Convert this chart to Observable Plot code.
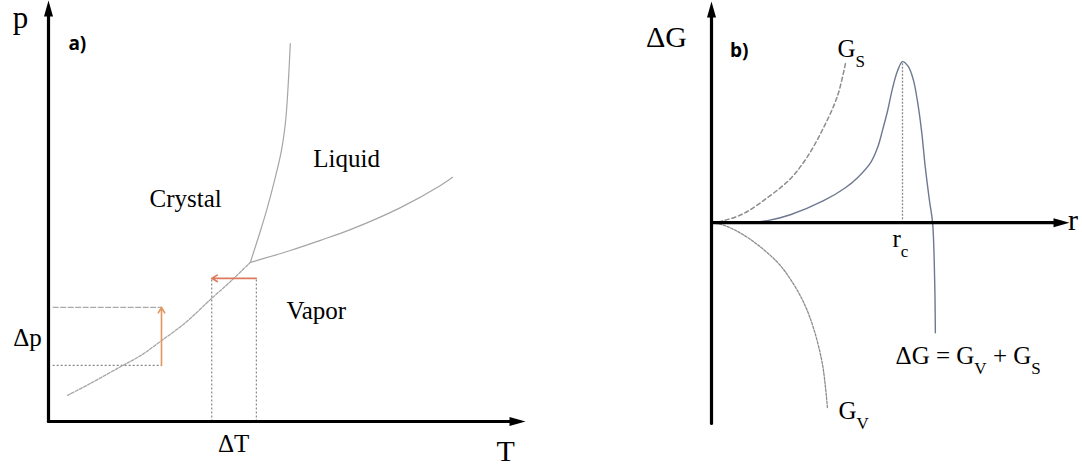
<!DOCTYPE html>
<html>
<head>
<meta charset="utf-8">
<script src="https://cdn.jsdelivr.net/npm/d3@7"></script>
<script src="https://cdn.jsdelivr.net/npm/@observablehq/plot@0.6"></script>
<style>
  html, body { margin: 0; padding: 0; background: #fff; }
  #figure { display: flex; width: 1082px; height: 466px; }
  #figure svg { overflow: visible; }
</style>
</head>
<body>
<div id="figure"></div>
<script>
// ---- a) p–T phase diagram: [T, p] in arbitrary units ----
const meltingCurve = [[4.34,3.89],[4.56,4.67],[4.69,5.16],[4.86,5.89],[5.01,6.63],[5.10,7.36],[5.16,8.34],[5.20,9.24]];
const vaporCurve = [[4.34,3.89],[5.20,4.18],[5.85,4.43],[6.49,4.69],[7.57,5.23],[8.43,5.77],[8.69,5.97]];
const sublimationCurve = [[0.41,0.64],[0.90,0.93],[1.55,1.34],[1.98,1.61],[2.41,1.96],[2.95,2.42],[3.48,2.98],[3.91,3.42],[4.34,3.89]];
const pressureStep = {T: 2.43, from: 1.37, to: 2.79};      // Δp at constant T
const temperatureStep = {p: 3.50, from: 4.47, to: 3.51};   // ΔT at constant p
const phaseNames = ["Crystal", "Liquid", "Vapor"];

// ---- b) nucleation free energy: [r, G] in arbitrary units ----
const surfaceTerm = [[0,0],[0.35,0.10],[0.92,0.43],[1.62,1.20],[2.28,2.10],[2.77,3.15],[3.24,4.55],[3.64,6.05],[3.87,7.60]];
const volumeTerm = [[0,0],[0.35,-0.12],[0.84,-0.50],[1.33,-1.05],[1.91,-1.90],[2.28,-2.70],[2.66,-3.80],[2.95,-5.05],[3.21,-6.80],[3.35,-8.84]];
const totalEnergy = [[0,0],[0.84,0],[1.62,0.10],[2.28,0.38],[3.24,1.05],[3.87,1.67],[4.22,2.15],[4.60,2.87],[4.80,3.59],[4.94,4.40],[5.09,5.35],[5.23,6.41],[5.38,7.27],[5.52,7.70],[5.69,7.46],[5.84,6.79],[5.95,5.83],[6.07,4.40],[6.18,2.63],[6.30,1.05],[6.39,0],[6.45,-2.77],[6.47,-5.26]];
const criticalRadius = 5.52;
const barrierHeight = 7.70;

const serif = "'Liberation Serif', 'Times New Roman', serif";
const X = d => d[0], Y = d => d[1];

// Filled arrow head, tip pointing up; the origin sits inside the head so the axis line is covered.
const arrowHead = {
  draw(ctx) {
    ctx.moveTo(0, -12);
    ctx.lineTo(4.5, 4);
    ctx.lineTo(-4.5, 4);
    ctx.closePath();
  }
};

function axesMarks(xMax, yMin, yMax) {
  return [
    Plot.line([[0, yMin], [0, yMax]], {x: X, y: Y, stroke: "#000", strokeWidth: 3.2}),
    Plot.line([[0, 0], [xMax, 0]], {x: X, y: Y, stroke: "#000", strokeWidth: 3.2}),
    Plot.dot([[0, yMax]], {x: X, y: Y, symbol: arrowHead, fill: "#000", stroke: "none", rotate: 0}),
    Plot.dot([[xMax, 0]], {x: X, y: Y, symbol: arrowHead, fill: "#000", stroke: "none", rotate: 90})
  ];
}

// Turn "G_S" into G with a subscript S.
function applySubscripts(svg) {
  svg.querySelectorAll("text").forEach(t => {
    const s = t.textContent;
    if (!s.includes("_")) return;
    t.textContent = "";
    s.split(/(_\w)/).forEach(part => {
      if (!part) return;
      const ts = document.createElementNS("http://www.w3.org/2000/svg", "tspan");
      if (part.startsWith("_")) {
        ts.textContent = part.slice(1);
        ts.setAttribute("baseline-shift", "sub");
        ts.setAttribute("font-size", "68%");
      } else {
        ts.textContent = part;
      }
      t.appendChild(ts);
    });
  });
  return svg;
}

const orange = "#e3965f";

const panelA = Plot.plot({
  width: 560, height: 466,
  marginLeft: 48, marginRight: 47, marginTop: 12, marginBottom: 45,
  x: {domain: [0, 10], axis: null},
  y: {domain: [0, 10], axis: null},
  style: {fontFamily: serif, background: "transparent"},
  marks: [
    // guides for the pressure step
    Plot.link([pressureStep.to], {x1: 0.09, x2: pressureStep.T, y1: d => d, y2: d => d, stroke: "#aaa", strokeWidth: 1.2, strokeDasharray: "6,1.5"}),
    Plot.link([pressureStep.from], {x1: 0.09, x2: pressureStep.T, y1: d => d, y2: d => d, stroke: "#888", strokeWidth: 1.2, strokeDasharray: "2,2"}),
    // guides for the temperature step
    Plot.link([temperatureStep.from, temperatureStep.to], {x1: d => d, x2: d => d, y1: 0, y2: temperatureStep.p, stroke: "#888", strokeWidth: 1.2, strokeDasharray: "2,2"}),
    // coexistence curves
    Plot.line(sublimationCurve, {x: X, y: Y, curve: "catmull-rom", stroke: "#a5a5a5", strokeWidth: 1.3, strokeDasharray: "3,1.5"}),
    Plot.line(meltingCurve, {x: X, y: Y, curve: "catmull-rom", stroke: "#a5a5a5", strokeWidth: 1.2}),
    Plot.line(vaporCurve, {x: X, y: Y, curve: "catmull-rom", stroke: "#a5a5a5", strokeWidth: 1.2}),
    // Δp and ΔT arrows
    Plot.arrow([pressureStep], {x1: "T", x2: "T", y1: "from", y2: "to", stroke: orange, strokeWidth: 1.6, headLength: 6, insetEnd: 0}),
    Plot.arrow([temperatureStep], {x1: "from", x2: "to", y1: "p", y2: "p", stroke: "#dd7a5c", strokeWidth: 1.6, headLength: 6, insetEnd: 0}),
    ...axesMarks(10, 0, 10),
    // labels
    Plot.text(["p"], {x: -0.60, y: 9.86, text: d => d, fontSize: 31}),
    Plot.text(["T"], {x: 9.83, y: -0.72, text: d => d, fontSize: 30}),
    Plot.text(["a)"], {x: 0.62, y: 9.24, text: d => d, fontSize: 19, fontWeight: "bold", fontFamily: "'Open Sans', sans-serif"}),
    Plot.text(phaseNames, {x: [2.95, 6.41, 5.76], y: [5.45, 6.43, 2.71], text: d => d, fontSize: 25}),
    Plot.text(["Δp"], {x: -0.45, y: 2.03, text: d => d, fontSize: 25}),
    Plot.text(["ΔT"], {x: 3.98, y: -0.54, text: d => d, fontSize: 25})
  ]
});

const panelB = Plot.plot({
  width: 522, height: 466,
  marginLeft: 151, marginRight: 25, marginTop: 13, marginBottom: 43,
  x: {domain: [0, 10], axis: null},
  y: {domain: [-9.6, 10], axis: null},
  style: {fontFamily: serif, background: "transparent"},
  marks: [
    Plot.link([criticalRadius], {x1: d => d, x2: d => d, y1: 0, y2: barrierHeight, stroke: "#8a8a8a", strokeWidth: 1.3, strokeDasharray: "2,1.5"}),
    Plot.line(surfaceTerm, {x: X, y: Y, curve: "catmull-rom", stroke: "#8c8c8c", strokeWidth: 1.5, strokeDasharray: "4,3"}),
    Plot.line(volumeTerm, {x: X, y: Y, curve: "catmull-rom", stroke: "#8c8c8c", strokeWidth: 1.3, strokeDasharray: "2.5,1.5"}),
    Plot.line(totalEnergy, {x: X, y: Y, curve: "catmull-rom", stroke: "#6e7890", strokeWidth: 1.4}),
    ...axesMarks(10, -9.6, 10),
    Plot.text(["ΔG"], {x: -1.30, y: 8.84, text: d => d, fontSize: 30}),
    Plot.text(["r"], {x: 10.45, y: 0.1, text: d => d, fontSize: 30}),
    Plot.text(["b)"], {x: 0.80, y: 8.22, text: d => d, fontSize: 19, fontWeight: "bold", fontFamily: "'Open Sans', sans-serif"}),
    Plot.text(["G_S"], {x: 3.64, y: 8.32, text: d => d, fontSize: 25, textAnchor: "start"}),
    Plot.text(["G_V"], {x: 3.67, y: -8.99, text: d => d, fontSize: 25, textAnchor: "start"}),
    Plot.text(["r_c"], {x: 5.23, y: -0.76, text: d => d, fontSize: 25, textAnchor: "start"}),
    Plot.text(["ΔG = G_V + G_S"], {x: 5.32, y: -6.36, text: d => d, fontSize: 25, textAnchor: "start"})
  ]
});

const fig = document.getElementById("figure");
fig.append(applySubscripts(panelA), applySubscripts(panelB));
</script>
</body>
</html>
